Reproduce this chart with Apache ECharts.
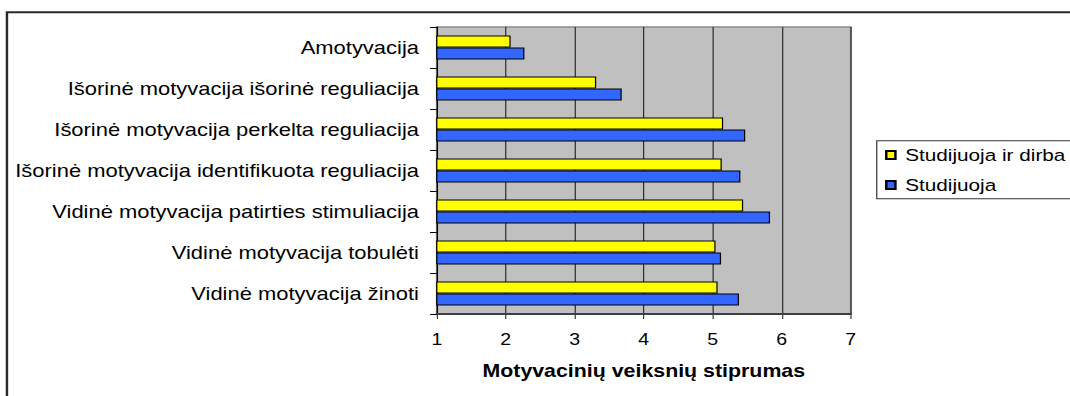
<!DOCTYPE html>
<html>
<head>
<meta charset="utf-8">
<script src="https://cdn.jsdelivr.net/npm/echarts@6/dist/echarts.min.js"></script>
<style>
  html, body { margin: 0; padding: 0; background: #fff; overflow: hidden; }
  #wrap { width: 1070px; height: 396px; overflow: hidden; }
  /* the chart is laid out narrower and widened horizontally */
  #chart { width: 877px; height: 396px; transform: scaleX(1.2201); transform-origin: 0 0; }
</style>
</head>
<body>
<div id="wrap"><div id="chart"></div></div>
<script>
const categories = [
  'Amotyvacija',
  'Išorinė motyvacija išorinė reguliacija',
  'Išorinė motyvacija perkelta reguliacija',
  'Išorinė motyvacija identifikuota reguliacija',
  'Vidinė motyvacija patirties stimuliacija',
  'Vidinė motyvacija tobulėti',
  'Vidinė motyvacija žinoti'
];
const studijuojaIrDirba = [2.07, 3.31, 5.15, 5.13, 5.44, 5.04, 5.07];
const studijuoja = [2.27, 3.68, 5.47, 5.40, 5.83, 5.12, 5.38];
const seriesNames = ['Studijuoja ir dirba', 'Studijuoja'];
const axisTitle = 'Motyvacinių veiksnių stiprumas';

const FONT = '"Liberation Sans", Arial, sans-serif';
const chart = echarts.init(document.getElementById('chart'), null, { renderer: 'svg' });

chart.setOption({
  animation: false,
  backgroundColor: '#fff',
  textStyle: { fontFamily: FONT, color: '#000' },
  graphic: [{
    type: 'rect',
    shape: { x: 5.7, y: 12.3, width: 1200, height: 600 },
    style: { fill: 'none', stroke: '#2a2a2a', lineWidth: 2 },
    silent: true
  }],
  grid: {
    left: 358, top: 27, width: 339.3, height: 287,
    show: true, backgroundColor: '#C0C0C0',
    borderColor: '#8a8a8a', borderWidth: 1.5
  },
  legend: {
    orient: 'vertical',
    left: 718.6, top: 140.7,
    padding: [4.3, 24, 3.7, 6.8],
    itemGap: 10,
    itemWidth: 7.5, itemHeight: 8,
    icon: 'rect',
    borderColor: '#333', borderWidth: 1,
    backgroundColor: '#fff',
    textStyle: { fontFamily: FONT, fontSize: 17, lineHeight: 20, color: '#000', padding: [0, 0, 0, 3] },
    data: seriesNames
  },
  xAxis: {
    type: 'value',
    min: 1, max: 7, interval: 1,
    name: axisTitle,
    nameLocation: 'middle',
    nameGap: 48,
    nameTextStyle: { fontFamily: FONT, fontSize: 17.5, fontWeight: 'bold', color: '#000' },
    axisLine: { show: true, lineStyle: { color: '#404040', width: 2 } },
    axisTick: { show: true, length: 5, lineStyle: { color: '#404040', width: 1 } },
    axisLabel: { fontFamily: FONT, fontSize: 16, color: '#000', margin: 18 },
    splitLine: { show: true, lineStyle: { color: '#2e2e2e', width: 1 } }
  },
  yAxis: {
    type: 'category',
    inverse: true,
    data: categories,
    axisLine: { show: true, lineStyle: { color: '#000', width: 1 } },
    axisTick: { show: true, length: 5.5, lineStyle: { color: '#000', width: 1 } },
    axisLabel: { fontFamily: FONT, fontSize: 18, color: '#000', margin: 14.6 },
    splitLine: { show: false }
  },
  series: [
    {
      name: seriesNames[0], type: 'bar', data: studijuojaIrDirba,
      barGap: '0%', barCategoryGap: '42%',
      itemStyle: { color: '#FFFF00', borderColor: '#000', borderWidth: 1 }
    },
    {
      name: seriesNames[1], type: 'bar', data: studijuoja,
      barGap: '0%', barCategoryGap: '42%',
      itemStyle: { color: '#3366FF', borderColor: '#000', borderWidth: 1 }
    }
  ]
});
</script>
</body>
</html>
